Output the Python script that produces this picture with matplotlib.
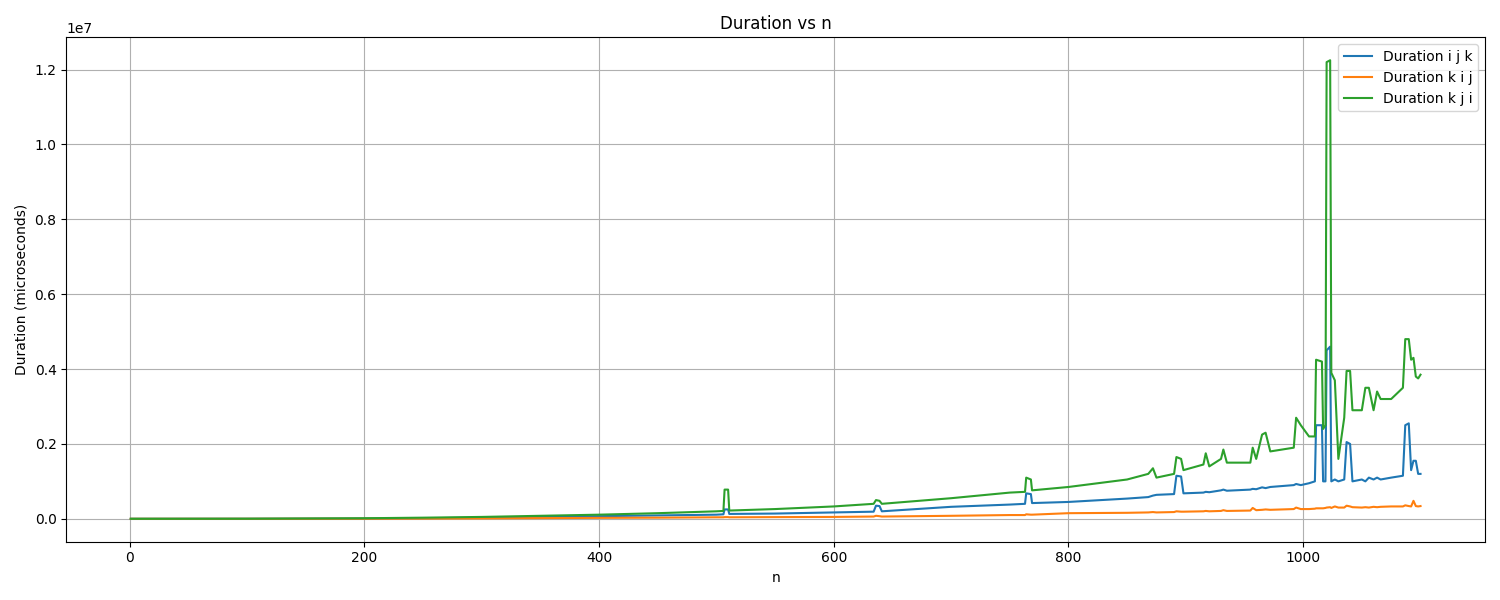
import matplotlib
matplotlib.use("Agg")
import matplotlib.pyplot as plt

n = [1, 100, 200, 250, 300, 350, 400, 450, 500, 506, 507, 510, 511, 550, 600, 634, 636, 639, 641,
     700, 750, 763, 764, 768, 769, 800, 850, 868, 872, 875, 890, 892, 896, 898, 915, 917, 920,
     930, 932, 935, 955, 957, 960, 965, 968, 972, 992, 994, 998, 1005, 1010, 1011, 1016, 1017,
     1019, 1020, 1023, 1024, 1027, 1030, 1035, 1037, 1040, 1042, 1050, 1053, 1056, 1060, 1063,
     1066, 1075, 1085, 1087, 1090, 1092, 1094, 1096, 1098, 1100]

ijk = [0, 1e3, 5e3, 1.5e4, 3e4, 5e4, 7e4, 9e4, 1.1e5, 1.2e5, 2.5e5, 2.5e5, 1.3e5, 1.4e5, 1.7e5,
       1.9e5, 3.5e5, 3.4e5, 2.0e5, 3.2e5, 3.8e5, 4.0e5, 6.8e5, 6.6e5, 4.2e5, 4.5e5, 5.4e5,
       5.8e5, 6.2e5, 6.4e5, 6.6e5, 1.15e6, 1.13e6, 6.8e5, 7.0e5, 7.2e5, 7.1e5, 7.6e5, 7.8e5,
       7.5e5, 7.8e5, 8.0e5, 7.9e5, 8.4e5, 8.2e5, 8.5e5, 9.0e5, 9.3e5, 9.0e5, 9.5e5, 1.0e6,
       2.5e6, 2.5e6, 1.0e6, 1.0e6, 4.5e6, 4.6e6, 1.0e6, 1.05e6, 1.0e6, 1.05e6, 2.05e6, 2.0e6,
       1.0e6, 1.05e6, 1.0e6, 1.1e6, 1.05e6, 1.1e6, 1.05e6, 1.1e6, 1.15e6, 2.5e6, 2.55e6, 1.3e6,
       1.55e6, 1.55e6, 1.2e6, 1.2e6]

kij = [0, 500, 2e3, 5e3, 1e4, 1.8e4, 2.5e4, 3e4, 4e4, 4e4, 4.5e4, 4.5e4, 4e4, 4.5e4, 5e4, 6e4,
       8e4, 7e4, 6e4, 8e4, 1.0e5, 1.0e5, 1.2e5, 1.1e5, 1.1e5, 1.5e5, 1.6e5, 1.7e5, 1.8e5, 1.7e5,
       1.8e5, 2.0e5, 1.9e5, 1.9e5, 2.0e5, 2.1e5, 2.0e5, 2.1e5, 2.3e5, 2.1e5, 2.2e5, 2.9e5, 2.3e5,
       2.4e5, 2.5e5, 2.4e5, 2.6e5, 3.0e5, 2.6e5, 2.6e5, 2.7e5, 2.8e5, 2.8e5, 2.8e5, 2.9e5, 3.0e5,
       3.1e5, 2.9e5, 3.3e5, 3.0e5, 3.0e5, 3.5e5, 3.3e5, 3.1e5, 3.0e5, 3.1e5, 3.0e5, 3.2e5, 3.1e5,
       3.2e5, 3.3e5, 3.3e5, 3.6e5, 3.4e5, 3.3e5, 4.8e5, 3.4e5, 3.3e5, 3.4e5]

kji = [0, 2e3, 1.5e4, 3e4, 5e4, 8e4, 1.1e5, 1.5e5, 2.0e5, 2.1e5, 7.8e5, 7.8e5, 2.2e5, 2.6e5,
       3.3e5, 4.0e5, 5.0e5, 4.8e5, 4.0e5, 5.5e5, 7.0e5, 7.2e5, 1.1e6, 1.05e6, 7.6e5, 8.5e5,
       1.05e6, 1.2e6, 1.35e6, 1.1e6, 1.2e6, 1.65e6, 1.6e6, 1.3e6, 1.45e6, 1.75e6, 1.4e6, 1.6e6,
       1.85e6, 1.5e6, 1.5e6, 1.9e6, 1.6e6, 2.25e6, 2.3e6, 1.8e6, 1.9e6, 2.7e6, 2.5e6, 2.2e6,
       2.2e6, 4.25e6, 4.2e6, 2.4e6, 2.5e6, 12.2e6, 12.25e6, 3.9e6, 3.7e6, 1.6e6, 2.7e6, 3.95e6,
       3.95e6, 2.9e6, 2.9e6, 3.5e6, 3.5e6, 2.9e6, 3.4e6, 3.2e6, 3.2e6, 3.5e6, 4.8e6, 4.8e6,
       4.25e6, 4.3e6, 3.8e6, 3.75e6, 3.85e6]

fig, ax = plt.subplots(figsize=(15, 6))
ax.plot(n, ijk, label="Duration i j k")
ax.plot(n, kij, label="Duration k i j")
ax.plot(n, kji, label="Duration k j i")
ax.set_xlabel("n")
ax.set_ylabel("Duration (microseconds)")
ax.set_title("Duration vs n")
ax.legend(loc="upper right")
ax.grid(True)
plt.tight_layout()
plt.savefig("out.png", dpi=100)
